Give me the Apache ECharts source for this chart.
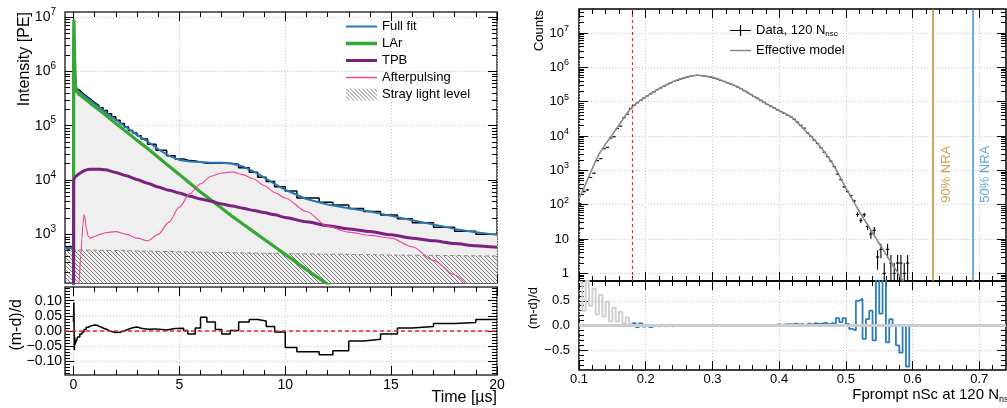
<!DOCTYPE html>
<html><head><meta charset="utf-8">
<script src="https://cdn.jsdelivr.net/npm/echarts@6/dist/echarts.min.js"></script>
<style>html,body{margin:0;padding:0;background:#fff}#c{width:1007px;height:408px}</style>
</head><body><div id="c"></div>
<script>
// ================= DATA =================
// Left: pulse shape fit (intensity in PE, given as log10 values)
const fitTime = [-0.4, -0.01, 0, 0.01, 0.02, 0.03, 0.04, 0.06, 0.08, 0.1, 0.15, 0.25, 0.35, 0.4, 0.45, 0.5, 0.55, 0.6, 0.7, 0.8, 1, 1.25, 1.5, 2, 2.5, 3, 3.5, 4, 4.5, 5, 5.5, 6, 6.5, 7, 7.5, 8, 8.5, 9, 9.5, 10, 11, 12, 13, 14, 15, 16, 17, 18, 19, 20];
const fullFitLog10 = [2.75, 2.75, 2.76, 6.5, 6.96, 6.8, 6.56, 6.17, 5.93, 5.76, 5.67, 5.625, 5.60, 5.585, 5.57, 5.555, 5.54, 5.525, 5.495, 5.465, 5.40, 5.33, 5.25, 5.11, 4.97, 4.83, 4.71, 4.57, 4.45, 4.37, 4.34, 4.33, 4.32, 4.32, 4.30, 4.25, 4.16, 4.05, 3.93, 3.82, 3.65, 3.55, 3.48, 3.42, 3.34, 3.26, 3.18, 3.10, 3.04, 2.99];
const larLog10 = [null, null, 0, 6.45, 6.95, 6.78, 6.54, 6.14, 5.89, 5.72, 5.63, 5.585, 5.555, 5.54, 5.52, 5.505, 5.49, 5.475, 5.445, 5.41, 5.35, 5.28, 5.20, 5.04, 4.89, 4.73, 4.58, 4.42, 4.26, 4.10, 3.94, 3.78, 3.63, 3.48, 3.33, 3.19, 3.05, 2.91, 2.77, 2.63, 2.35, 2.08, 1.80, 1.52, null, null, null, null, null, null];
const tpbLog10 = [null, null, 0, 4.0, 4.01, 4.02, 4.03, 4.04, 4.05, 4.06, 4.08, 4.11, 4.14, 4.15, 4.16, 4.17, 4.18, 4.185, 4.195, 4.20, 4.20, 4.20, 4.19, 4.14, 4.08, 4.01, 3.94, 3.87, 3.81, 3.76, 3.70, 3.65, 3.61, 3.56, 3.52, 3.48, 3.44, 3.40, 3.36, 3.31, 3.23, 3.16, 3.10, 3.05, 2.99, 2.93, 2.88, 2.83, 2.79, 2.76];
const afterpulseLog10 = [null, null, null, null, null, null, null, null, null, null, 0.5, 2.05, 2.62, 2.92, 3.2, 3.36, 3.3, 3.12, 2.96, 2.93, 2.96, 3.0, 3.03, 3.05, 3.0, 2.93, 2.88, 3.0, 3.22, 3.5, 3.75, 3.93, 4.07, 4.13, 4.15, 4.1, 4.02, 3.9, 3.77, 3.67, 3.42, 3.15, 3.04, 2.98, 2.93, 2.77, 2.52, 2.25, 1.95, 1.6];
const strayTime = [-0.4, 5, 10, 15, 20];
const strayLog10 = [2.72, 2.68, 2.645, 2.62, 2.60];
// data histogram (PE per bin)
const pulseBinEdges = [-0.4, -0.3, -0.2, -0.1, 0, 0.02, 0.04, 0.06, 0.08, 0.1, 0.15, 0.2, 0.3, 0.4, 0.5, 0.6, 0.7, 0.8, 0.9, 1.0, 1.1, 1.2, 1.4, 1.6, 1.8, 2.0, 2.2, 2.4, 2.6, 2.8, 3.0, 3.2, 3.5, 3.9, 4.4, 4.8, 5.2, 5.4, 5.75, 6.0, 6.3, 6.7, 7.0, 7.4, 7.8, 8.3, 8.7, 9.1, 9.5, 10.0, 10.55, 11.6, 12.25, 13.0, 13.7, 14.5, 15.3, 16.0, 17.0, 18.0, 19.0, 20.0];
const pulseCounts = [560, 525, 595, 540, 2.9e6, 5.7e6, 2.4e6, 1.14e6, 7.4e5, 5.45e5, 4.8e5, 4.45e5, 4.1e5, 3.8e5, 3.53e5, 3.3e5, 3.08e5, 2.86e5, 2.67e5, 2.49e5, 2.36e5, 2.14e5, 1.9e5, 1.66e5, 1.46e5, 1.26e5, 1.10e5, 9.5e4, 8.2e4, 7.3e4, 6.55e4, 5.7e4, 4.54e4, 3.54e4, 2.8e4, 2.43e4, 2.31e4, 2.23e4, 2.14e4, 2.04e4, 2.03e4, 2.04e4, 2.04e4, 1.95e4, 1.69e4, 1.39e4, 1.13e4, 9.4e3, 7.5e3, 6.3e3, 4.68e3, 3.9e3, 3.46e3, 2.98e3, 2.64e3, 2.26e3, 1.93e3, 1.64e3, 1.35e3, 1.14e3, 1.0e3];
// residual (m-d)/d
const residualEdges = [0, 0.02, 0.04, 0.06, 0.08, 0.1, 0.15, 0.2, 0.3, 0.4, 0.5, 0.6, 0.7, 0.8, 0.9, 1.0, 1.1, 1.2, 1.4, 1.6, 1.8, 2.0, 2.2, 2.4, 2.6, 2.8, 3.0, 3.2, 3.5, 3.9, 4.4, 4.8, 5.2, 5.4, 5.75, 6.0, 6.3, 6.7, 7.0, 7.4, 7.8, 8.3, 8.7, 9.1, 9.5, 10.0, 10.55, 11.6, 12.25, 13.0, 13.7, 14.5, 15.3, 16.0, 17.0, 18.0, 19.0, 20.0];
const residualValues = [0.03, 0.094, -0.063, -0.02, -0.045, -0.038, -0.03, -0.02, -0.01, -0.003, 0.005, 0.012, 0.016, 0.018, 0.02, 0.019, 0.016, 0.01, 0.004, -0.002, -0.005, -0.004, 0.0, 0.006, 0.011, 0.013, 0.009, 0.006, 0.007, 0.003, 0.008, 0.009, 0.002, -0.01, 0.01, 0.045, 0.03, 0.005, -0.01, 0.002, 0.03, 0.038, 0.033, 0.015, -0.003, -0.054, -0.068, -0.078, -0.065, -0.033, -0.027, -0.01, 0.01, 0.015, 0.025, 0.028, 0.038];

// Right: Fprompt distribution
const fpModelX = [0.100, 0.110, 0.120, 0.130, 0.140, 0.150, 0.160, 0.170, 0.180, 0.190, 0.200, 0.220, 0.240, 0.260, 0.277, 0.300, 0.320, 0.340, 0.360, 0.380, 0.400, 0.420, 0.440, 0.460, 0.480, 0.500, 0.520, 0.540, 0.560, 0.580, 0.586];
const fpModelLog10 = [2.18, 2.60, 3.05, 3.47, 3.77, 4.04, 4.32, 4.61, 4.85, 5.01, 5.14, 5.38, 5.57, 5.71, 5.77, 5.71, 5.57, 5.41, 5.18, 4.95, 4.74, 4.53, 4.14, 3.73, 3.20, 2.49, 1.81, 1.18, 0.56, -0.05, -0.24];
const fpBinStart = 0.1, fpBinWidth = 0.005;
const fpCounts = [103, 242, 270, 620, 825, 1920, 2190, 4260, 4680, 8700,
  9500, 16500, 19500, 34000, 43400, 63000, 77600, 93300, 110000, 129000,
  148000, 170000, 195000, 224000, 251000, 282000, 316000, 355000, 389000, 417000,
  457000, 490000, 525000, 550000, 575000, 589000, 575000, 562000, 537000, 513000,
  490000, 457000, 417000, 389000, 355000, 324000, 295000, 269000, 240000, 209000,
  186000, 162000, 141000, 126000, 110000, 95500, 83200, 74100, 66100, 57500,
  51300, 45700, 40700, 36300, 30900, 25100, 20400, 17000, 12300, 9770,
  7590, 6030, 4570, 3390, 2510, 1860, 1280, 775, 537, 330,
  244, 183, 128, 52, 35, 51, 23, 14, 18, 3,
  5, 1, 5, 2, 1, 2, 2, 1, 2, 0];
const fpResiduals = [0.88, 0.30, 0.90, 0.40, 0.75, 0.22, 0.62, 0.18, 0.48, 0.08,
  0.36, 0.08, 0.28, 0.04, 0.16, 0.04, 0.05, -0.03, 0.04, -0.02,
  0.02, -0.03, 0.01, -0.02, 0.02, -0.02, 0.0, -0.02, 0.01, -0.01,
  -0.01, 0.0, -0.005, 0.0, -0.005, 0.005, -0.005, 0.0, -0.005, 0.005,
  0.0, -0.005, 0.005, 0.0, -0.005, 0.005, 0.0, 0.005, -0.005, 0.005,
  0.0, 0.005, 0.0, -0.005, 0.01, 0.0, 0.01, -0.005, 0.01, 0.02,
  0.01, 0.02, 0.03, 0.02, 0.04, 0.02, 0.03, 0.01, 0.04, 0.02,
  0.05, 0.03, 0.04, 0.06, 0.02, 0.05, 0.03, 0.15, 0.07, 0.15,
  0.03, -0.07, -0.10, 0.50, 0.54, -0.27, 0.13, 0.30, -0.30, 1.5,
  0.24, 1.5, -0.34, 0.13, 0.0, -0.40, -0.55, 0.0, -0.83, 0.0];
const fpGreyBins = 16;            // bins left of the cut drawn grey
const fpCut = 0.1776, nra90 = 0.6315, nra50 = 0.6905;
const nraLabelY = 770;

// tick labels
const timeTicks = [0, 5, 10, 15, 20];
const pulseLogTicks = [1e3, 1e4, 1e5, 1e6, 1e7];
const pulseResTicks = [-0.1, -0.05, 0, 0.05, 0.1];
const fpTicks = [0.1, 0.2, 0.3, 0.4, 0.5, 0.6, 0.7];
const fpLogTicks = [1, 10, 1e2, 1e3, 1e4, 1e5, 1e6, 1e7];
const fpResTicks = [-0.5, 0, 0.5];

// ================= BUILD =================
const FONT = "'Liberation Sans', Arial, Helvetica, sans-serif";
const pow10 = v => (v === null ? null : Math.pow(10, v));
const pairs = (xs, ys) => xs.map((x, i) => [x, ys[i]]);
function stepData(edges, vals) {
  const d = vals.map((v, i) => [edges[i], v]);
  d.push([edges[edges.length - 1], vals[vals.length - 1]]);
  return d;
}
function logMinors(min, max) {
  const out = [];
  for (let d = Math.floor(Math.log10(min)); d <= Math.ceil(Math.log10(max)); d++)
    for (let k = 2; k <= 9; k++) { const v = +(k * Math.pow(10, d)).toPrecision(3); if (v > min && v < max) out.push(v); }
  return out;
}
function linMinors(step, kmin, kmax, every) {
  const out = [];
  for (let k = kmin; k <= kmax; k++) if (k % every !== 0) out.push(+(k * step).toFixed(4));
  return out;
}
function makeHatch() {
  const c = document.createElement('canvas'); c.width = 4; c.height = 4;
  const g = c.getContext('2d'); g.strokeStyle = '#5e5e5e'; g.lineWidth = 0.8;
  g.beginPath(); g.moveTo(-1, -1); g.lineTo(5, 5); g.moveTo(-1, 3); g.lineTo(1, 5); g.moveTo(3, -1); g.lineTo(5, 1); g.stroke();
  return c;
}
const hatch = { image: makeHatch(), repeat: 'repeat' };

const gridLine = { show: true, lineStyle: { color: '#c6c6c6', width: 1, type: [1, 2] } };
const tick = (vals, len) => ({ show: true, inside: true, length: len, customValues: vals, lineStyle: { color: '#000', width: 1 } });
function axisSet(dim, grid, type, min, max, major, minor, main) {
  const pA = dim === 'x' ? 'bottom' : 'left', pB = dim === 'x' ? 'top' : 'right';
  const base = { gridIndex: grid, type: type, min: min, max: max, axisLine: { show: false, onZero: false }, splitLine: { show: false }, axisLabel: { show: false } };
  return [
    Object.assign({}, base, { position: pA, axisTick: tick(major, 9), splitLine: gridLine }, main),
    Object.assign({}, base, { position: pA, axisTick: tick(minor, 5) }),
    Object.assign({}, base, { position: pB, axisTick: tick(major, 9) }),
    Object.assign({}, base, { position: pB, axisTick: tick(minor, 5) })
  ];
}
function richLog(size) {
  return { b: { fontSize: size, fontFamily: FONT, color: '#000' }, s: { fontSize: size - 4, fontFamily: FONT, color: '#000', padding: [0, 0, size - 4, 0] } };
}
function logFmt(v) {
  const e = Math.round(Math.log10(v));
  if (e === 0) return '{b|1}';
  if (e === 1) return '{b|10}';
  return '{b|10}{s|' + e + '}';
}
const signed = d => v => (v < -1e-9 ? '\u2212' : '') + Math.abs(v).toFixed(d);

const pulseYMin = 127, pulseYMax = 1.24e7, fpYMin = 0.6, fpYMax = 5.0e7;
const fpXMin = 0.1, fpXMax = 0.74;

const xAxes = [].concat(
  axisSet('x', 0, 'value', -0.4, 20, timeTicks, linMinors(1, 1, 19, 5), {}),
  axisSet('x', 1, 'value', -0.4, 20, timeTicks, linMinors(1, 1, 19, 5), {
    axisLabel: { show: true, customValues: timeTicks, margin: 3, fontSize: 14, fontFamily: FONT, color: '#000' } }),
  axisSet('x', 2, 'value', fpXMin, fpXMax, fpTicks, linMinors(0.02, 6, 36, 5), {}),
  axisSet('x', 3, 'value', fpXMin, fpXMax, fpTicks, linMinors(0.02, 6, 36, 5), {
    axisLabel: { show: true, customValues: fpTicks, margin: 3, fontSize: 13, fontFamily: FONT, color: '#000', formatter: v => v.toFixed(1) } })
);
const yAxes = [].concat(
  axisSet('y', 0, 'log', pulseYMin, pulseYMax, pulseLogTicks, logMinors(pulseYMin, pulseYMax), {
    axisLabel: { show: true, customValues: pulseLogTicks, margin: 9, formatter: logFmt, rich: richLog(14) } }),
  axisSet('y', 1, 'value', -0.145, 0.145, pulseResTicks, linMinors(0.01, -14, 14, 5), {
    axisLabel: { show: true, customValues: pulseResTicks, margin: 3, fontSize: 14, fontFamily: FONT, color: '#000', formatter: signed(2) } }),
  axisSet('y', 2, 'log', fpYMin, fpYMax, fpLogTicks, logMinors(fpYMin, fpYMax), {
    axisLabel: { show: true, customValues: fpLogTicks, margin: 10, formatter: logFmt, rich: richLog(13) } }),
  axisSet('y', 3, 'value', -0.9, 0.9, fpResTicks, linMinors(0.1, -8, 8, 5), {
    axisLabel: { show: true, customValues: fpResTicks, margin: 9, fontSize: 13, fontFamily: FONT, color: '#000', formatter: signed(1) } })
);

const C = { fit: '#2878b8', lar: '#36a635', tpb: '#7a2182', ap: '#ec4899', gold: '#bd872c', nra50: '#3b8fd3', resBlue: '#2d7dbd', model: '#8a8a8a', resGrey: '#d0d0d0' };
const lineIcon = (w, th) => 'path://M0,0h0.01v12h-0.01zM0,' + ((12 - th) / 2) + 'h' + w + 'v' + th + 'h-' + w + 'z';
const fpEdges = fpResiduals.map((_, i) => +(fpBinStart + i * fpBinWidth).toFixed(4)).concat([+(fpBinStart + fpResiduals.length * fpBinWidth).toFixed(4)]);

const series = [
  { type: 'line', name: 'fitArea', xAxisIndex: 0, yAxisIndex: 0, data: pairs(fitTime.slice(2), fullFitLog10.slice(2).map(pow10)),
    symbol: 'none', lineStyle: { width: 0 }, areaStyle: { color: '#efefef', opacity: 1, origin: 'start' }, silent: true, z: 1 },
  { type: 'line', name: 'Stray light level', xAxisIndex: 0, yAxisIndex: 0, data: pairs(strayTime, strayLog10.map(pow10)),
    symbol: 'none', itemStyle: { color: '#8c8c8c' }, lineStyle: { color: '#8c8c8c', width: 1, type: [4, 3] }, areaStyle: { color: hatch, opacity: 1, origin: 'start' }, z: 2 },
  { type: 'line', name: 'pulseData', xAxisIndex: 0, yAxisIndex: 0, data: stepData(pulseBinEdges, pulseCounts), step: 'end',
    symbol: 'none', lineStyle: { color: '#000', width: 1.5 }, z: 3 },
  { type: 'line', name: 'Full fit', xAxisIndex: 0, yAxisIndex: 0, data: pairs(fitTime, fullFitLog10.map(pow10)),
    symbol: 'none', itemStyle: { color: C.fit }, lineStyle: { color: C.fit, width: 2 }, z: 4 },
  { type: 'line', name: 'LAr', xAxisIndex: 0, yAxisIndex: 0, data: pairs(fitTime, larLog10.map(pow10)),
    symbol: 'none', itemStyle: { color: C.lar }, lineStyle: { color: C.lar, width: 3.2 }, z: 5 },
  { type: 'line', name: 'TPB', xAxisIndex: 0, yAxisIndex: 0, data: pairs(fitTime, tpbLog10.map(pow10)), smooth: 0.25, smoothMonotone: 'x',
    symbol: 'none', itemStyle: { color: C.tpb }, lineStyle: { color: C.tpb, width: 3 }, z: 5 },
  { type: 'line', name: 'Afterpulsing', xAxisIndex: 0, yAxisIndex: 0, data: pairs(fitTime, afterpulseLog10.map(pow10)), smooth: 0.3, smoothMonotone: 'x',
    symbol: 'none', itemStyle: { color: C.ap }, lineStyle: { color: C.ap, width: 1.1 }, z: 5 },
  { type: 'line', name: 'pulseResidual', xAxisIndex: 4, yAxisIndex: 4, data: stepData(residualEdges, residualValues), step: 'end',
    symbol: 'none', lineStyle: { color: '#000', width: 1.5 }, z: 3,
    markLine: { silent: true, symbol: ['none', 'none'], label: { show: false }, lineStyle: { color: '#e8262a', type: [4, 3], width: 1.5 }, data: [{ yAxis: 0 }] } },
  { type: 'custom', name: 'Data, 120 N', xAxisIndex: 8, yAxisIndex: 8, clip: true, encode: { x: 0, y: 1 },
    itemStyle: { color: '#000' },
    data: fpCounts.map((n, i) => [+(fpBinStart + (i + 0.5) * fpBinWidth).toFixed(5), n]),
    renderItem: function (params, api) {
      const x = api.value(0), n = api.value(1);
      if (!(n > 0)) return null;
      const e = Math.sqrt(n), lo = Math.max(n - e, 0.3), hi = n + e;
      const a = api.coord([x - fpBinWidth / 2, n]), b = api.coord([x + fpBinWidth / 2, n]);
      const c = api.coord([x, lo]), d = api.coord([x, hi]);
      const st = { stroke: '#000', lineWidth: 1.1 };
      return { type: 'group', children: [
        { type: 'line', shape: { x1: a[0], y1: a[1], x2: b[0], y2: b[1] }, style: st },
        { type: 'line', shape: { x1: c[0], y1: c[1], x2: d[0], y2: d[1] }, style: st }] };
    }, z: 3 },
  { type: 'line', name: 'Effective model', xAxisIndex: 8, yAxisIndex: 8, data: pairs(fpModelX, fpModelLog10.map(pow10)), smooth: 0.3,
    symbol: 'none', itemStyle: { color: C.model }, lineStyle: { color: C.model, width: 1.6 }, z: 4,
    markLine: { silent: true, symbol: ['none', 'none'], label: { show: false }, data: [
      { xAxis: fpCut, lineStyle: { color: '#e8262a', type: [3, 3], width: 1.2 } },
      { xAxis: nra90, lineStyle: { color: C.gold, type: 'solid', width: 1.5 } },
      { xAxis: nra50, lineStyle: { color: C.nra50, type: 'solid', width: 1.5 } }] } },
  { type: 'scatter', name: 'nraLabels', xAxisIndex: 8, yAxisIndex: 8, symbolSize: 2, itemStyle: { color: 'rgba(0,0,0,0)' }, silent: true, z: 6,
    label: { show: true, position: 'inside', rotate: 90, fontSize: 13, fontFamily: FONT },
    data: [
      { value: [0.65, nraLabelY], label: { formatter: '90% NRA', color: C.gold } },
      { value: [0.7096, nraLabelY], label: { formatter: '50% NRA', color: C.nra50 } }] },
  { type: 'line', name: 'fpResGrey', xAxisIndex: 12, yAxisIndex: 12,
    data: stepData(fpEdges.slice(0, fpGreyBins + 1), fpResiduals.slice(0, fpGreyBins)), step: 'end',
    symbol: 'none', lineStyle: { color: C.resGrey, width: 2 }, z: 3 },
  { type: 'line', name: 'fpResBlue', xAxisIndex: 12, yAxisIndex: 12,
    data: stepData(fpEdges.slice(fpGreyBins), fpResiduals.slice(fpGreyBins)), step: 'end',
    symbol: 'none', lineStyle: { color: C.resBlue, width: 1.8 }, z: 3 },
  { type: 'line', name: 'fpResZero', xAxisIndex: 12, yAxisIndex: 12, data: [[fpXMin, 0], [fpXMax, 0]],
    symbol: 'none', silent: true, lineStyle: { color: '#c8cdd2', type: 'solid', width: 3 }, z: 6 }
];

// axis titles (ROOT-style placement)
const titleStyle = (size) => ({ fontSize: size, fontFamily: FONT, fill: '#000' });
const graphic = [
  { type: 'text', x: 25, y: 12, rotation: Math.PI / 2, silent: true,
    style: Object.assign({ text: 'Intensity [PE]', align: 'right', verticalAlign: 'middle' }, titleStyle(16)) },
  { type: 'text', x: 17, y: 299, rotation: Math.PI / 2, silent: true,
    style: Object.assign({ text: '(m-d)/d', align: 'right', verticalAlign: 'middle' }, titleStyle(16)) },
  { type: 'text', x: 497, y: 398, silent: true,
    style: Object.assign({ text: 'Time [\u00b5s]', align: 'right', verticalAlign: 'middle' }, titleStyle(16)) },
  { type: 'text', x: 539, y: 10, rotation: Math.PI / 2, silent: true,
    style: Object.assign({ text: 'Counts', align: 'right', verticalAlign: 'middle' }, titleStyle(13)) },
  { type: 'text', x: 533, y: 287, rotation: Math.PI / 2, silent: true,
    style: Object.assign({ text: '(m-d)/d', align: 'right', verticalAlign: 'middle' }, titleStyle(13)) },
  { type: 'text', x: 1013, y: 386, silent: true,
    style: { text: '{a|Fprompt nSc at 120 N}{s|nsc}', align: 'right', verticalAlign: 'top', fontFamily: FONT, fill: '#000',
      rich: { a: { fontSize: 15, fontFamily: FONT, fill: '#000' }, s: { fontSize: 9, fontFamily: FONT, fill: '#000', padding: [9, 0, 0, 0] } } } }
];

const gridBase = { show: true, borderWidth: 1.5, backgroundColor: 'transparent', containLabel: false, outerBoundsMode: 'none' };
const option = {
  animation: false,
  backgroundColor: '#fff',
  textStyle: { fontFamily: FONT },
  grid: [
    Object.assign({ left: 65, right: 510, top: 12, height: 271, borderColor: '#333' }, gridBase),
    Object.assign({ left: 65, right: 510, top: 287, height: 88, borderColor: '#333' }, gridBase),
    Object.assign({ left: 579, right: 1, top: 9, height: 272, borderColor: '#000' }, gridBase),
    Object.assign({ left: 579, right: 1, top: 281, height: 89, borderColor: '#000' }, gridBase)
  ],
  xAxis: xAxes,
  yAxis: yAxes,
  legend: [
    { orient: 'vertical', left: 346, top: 20, itemWidth: 31, itemHeight: 12, itemGap: 4, padding: 0, selectedMode: false,
      textStyle: { fontSize: 13, fontFamily: FONT, color: '#000' },
      data: [
        { name: 'Full fit', icon: lineIcon(31, 2), itemStyle: { color: C.fit, borderWidth: 0 } },
        { name: 'LAr', icon: lineIcon(31, 3.5), itemStyle: { color: C.lar, borderWidth: 0 } },
        { name: 'TPB', icon: lineIcon(31, 3), itemStyle: { color: C.tpb, borderWidth: 0 } },
        { name: 'Afterpulsing', icon: lineIcon(31, 1.4), itemStyle: { color: C.ap, borderWidth: 0 } },
        { name: 'Stray light level', icon: 'rect', itemStyle: { color: hatch, borderWidth: 0 } }] },
    { orient: 'vertical', left: 730, top: 24, itemWidth: 21, itemHeight: 12, itemGap: 6, padding: 0, selectedMode: false,
      textStyle: { fontSize: 13, fontFamily: FONT, color: '#000',
        rich: { n: { fontSize: 13, fontFamily: FONT, color: '#000' }, s: { fontSize: 8, fontFamily: FONT, color: '#000', padding: [7, 0, 0, 0] } } },
      formatter: name => name === 'Data, 120 N' ? '{n|Data, 120 N}{s|nsc}' : '{n|' + name + '}',
      data: [
        { name: 'Data, 120 N', icon: 'path://M0,0h0.01v12h-0.01zM0,5.4h21v1.2h-21zM9.9,0.5h1.2v11h-1.2z', itemStyle: { color: '#000', borderWidth: 0 } },
        { name: 'Effective model', icon: lineIcon(21, 1.5), itemStyle: { color: C.model, borderWidth: 0 } }] }
  ],
  graphic: graphic,
  series: series
};
const chart = echarts.init(document.getElementById('c'), null, { renderer: 'canvas' });
chart.setOption(option);
</script>
</body></html>
